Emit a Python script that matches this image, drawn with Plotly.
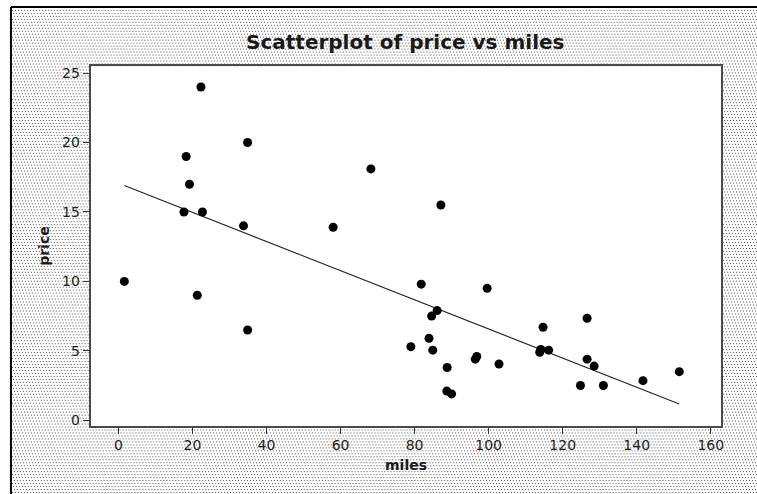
import base64
import numpy as np
import plotly.graph_objects as go

# ---- data ----
miles = [1.6, 17.7, 18.3, 19.2, 21.3, 22.3, 22.7, 33.8, 34.9, 34.9,
         58.0, 68.2, 79.0, 81.8, 83.9, 84.6, 84.9, 86.1, 87.1, 88.7,
         88.8, 90.0, 96.4, 96.8, 99.6, 102.8, 113.8, 114.1, 114.7, 116.2,
         124.8, 126.6, 126.6, 128.5, 131.0, 141.7, 151.5]
price = [10.0, 15.0, 19.0, 17.0, 9.0, 24.0, 15.0, 14.0, 20.0, 6.5,
         13.9, 18.1, 5.3, 9.8, 5.9, 7.5, 5.05, 7.9, 15.5, 2.1,
         3.8, 1.9, 4.4, 4.6, 9.5, 4.05, 4.9, 5.1, 6.7, 5.05,
         2.5, 7.35, 4.4, 3.9, 2.5, 2.85, 3.5]
x_ticks = [0, 20, 40, 60, 80, 100, 120, 140, 160]
y_ticks = [0, 5, 10, 15, 20, 25]
chart_title = "Scatterplot of price vs miles"
x_title = "miles"
y_title = "price"

W, H = 757, 494

# least-squares fitted line over the data range
slope, intercept = np.polyfit(miles, price, 1)
fit_x = np.array([min(miles), max(miles)])
fit_y = intercept + slope * fit_x

# dotted background texture (Minitab style), drawn larger than the page so no edge shows
bx, by = 11, 6
IW, IH = W - bx + 40, H - by + 40
svg = (
    f"<svg xmlns='http://www.w3.org/2000/svg' width='{IW}' height='{IH}' "
    f"viewBox='0 0 {IW} {IH}' preserveAspectRatio='none' shape-rendering='crispEdges'>"
    "<defs><pattern id='p' width='3' height='9' patternUnits='userSpaceOnUse'>"
    "<rect width='3' height='9' fill='#ffffff'/>"
    "<rect x='0' y='0' width='1' height='1' fill='#505050'/>"
    "<rect x='1' y='3' width='1' height='1' fill='#505050'/>"
    "<rect x='2' y='6' width='1' height='1' fill='#505050'/>"
    "</pattern></defs><rect width='100%' height='100%' fill='url(#p)'/></svg>"
)
src = "data:image/svg+xml;base64," + base64.b64encode(svg.encode()).decode()

fig = go.Figure()
fig.add_trace(go.Scatter(x=fit_x, y=fit_y, mode="lines",
                         line=dict(color="#222222", width=1.1),
                         hoverinfo="skip", showlegend=False))
fig.add_trace(go.Scatter(x=miles, y=price, mode="markers",
                         marker=dict(color="black", size=9, line=dict(width=0)),
                         showlegend=False))

L, R, T, B = 91, 724, 66, 428
font = "DejaVu Sans"
axis_common = dict(showgrid=False, zeroline=False, showline=True, linecolor="#4a4a4a",
                   linewidth=2, mirror=True, ticks="outside", ticklen=6, tickwidth=1,
                   tickcolor="#333333", tickfont=dict(family=font, size=14, color="#1e1e1e"))

fig.update_layout(
    width=W, height=H,
    margin=dict(l=0, r=0, t=0, b=0),
    paper_bgcolor="white", plot_bgcolor="white",
    xaxis=dict(domain=[L / W, R / W], range=[-7.5, 162.8], tickvals=x_ticks, **axis_common),
    yaxis=dict(domain=[1 - B / H, 1 - T / H], range=[-0.38, 25.48], tickvals=y_ticks, **axis_common),
    images=[dict(source=src, xref="paper", yref="paper", x=bx / W, y=1 - by / H,
                 sizex=IW / W, sizey=IH / H, xanchor="left", yanchor="top",
                 sizing="stretch", layer="below")],
    shapes=[
        dict(type="rect", xref="paper", yref="paper", x0=L / W, x1=R / W, y0=1 - B / H, y1=1 - T / H,
             fillcolor="white", line=dict(width=0), layer="below"),
        dict(type="line", xref="paper", yref="paper", x0=bx / W, x1=1.02, y0=1 - by / H, y1=1 - by / H,
             line=dict(color="black", width=2)),
        dict(type="line", xref="paper", yref="paper", x0=bx / W, x1=bx / W, y0=-0.02, y1=1 - by / H,
             line=dict(color="black", width=2)),
    ],
    annotations=[
        dict(text=f"<b>{chart_title}</b>", xref="paper", yref="paper", x=(L + R) / 2 / W, y=1 - 41 / H,
             xanchor="center", yanchor="middle", showarrow=False,
             font=dict(family=font, size=20, color="#1a1a1a")),
        dict(text=f"<b>{x_title}</b>", xref="paper", yref="paper", x=(L + R) / 2 / W, y=1 - 468 / H,
             xanchor="center", yanchor="middle", showarrow=False,
             font=dict(family=font, size=14, color="#1a1a1a")),
        dict(text=f"<b>{y_title}</b>", xref="paper", yref="paper", x=44 / W, y=1 - (T + B) / 2 / H,
             xanchor="center", yanchor="middle", showarrow=False, textangle=-90,
             font=dict(family=font, size=14, color="#1a1a1a")),
    ],
)

fig.write_html("out.html", config={"displayModeBar": False},
               post_script="document.body.style.margin='0';document.body.style.padding='0';"
                           "document.body.style.overflow='hidden';")
